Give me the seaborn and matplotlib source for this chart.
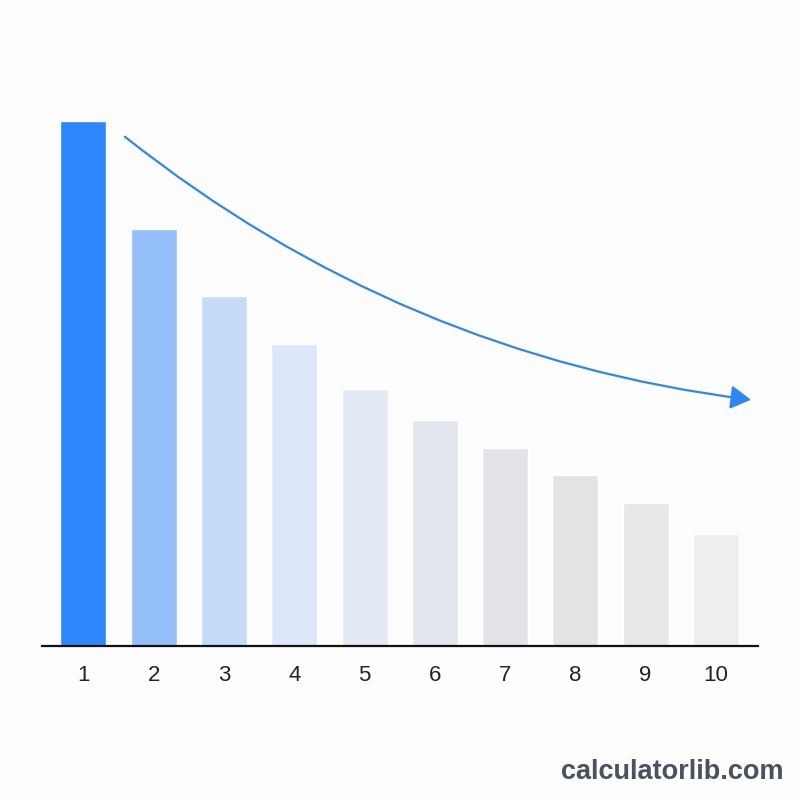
import matplotlib
matplotlib.use("Agg")
import matplotlib.pyplot as plt
import seaborn as sns
import pandas as pd

categories = ["1", "2", "3", "4", "5", "6", "7", "8", "9", "10"]
values = [100, 79.4, 66.7, 57.5, 48.9, 43.0, 37.7, 32.6, 27.2, 21.3]
bar_colors = ["#2E86FF", "#94BFFA", "#C6DBFA", "#DCE8FA", "#E3EAF5",
              "#E2E6EE", "#E2E4E8", "#E3E3E5", "#E8E8E9", "#EEEEEE"]

sns.set_theme(style="white")
plt.rcParams["font.family"] = ["Liberation Sans", "DejaVu Sans"]

df = pd.DataFrame({"rank": categories, "value": values})

fig = plt.figure(figsize=(8, 8), dpi=100, facecolor="#FDFDFD")
ax = fig.add_axes([42 / 800, (800 - 646) / 800, (758 - 42) / 800, (646 - 100) / 800])
ax.set_facecolor("#FDFDFD")

sns.barplot(data=df, x="rank", y="value", hue="rank", palette=bar_colors,
            dodge=False, legend=False, width=0.655, saturation=1, ax=ax)

ax.set_xlim(-0.59, 9.6)
ax.set_ylim(0, 104)
ax.set_xlabel("")
ax.set_ylabel("")
ax.set_yticks([])
for s in ["top", "right", "left"]:
    ax.spines[s].set_visible(False)
ax.spines["bottom"].set_color("#111111")
ax.spines["bottom"].set_linewidth(1.6)
ax.tick_params(axis="x", length=0, pad=14, labelsize=16, labelcolor="#222222")

# decorative trend arrow
ax.annotate("", xy=(9.5, values[-1] + 25.6), xytext=(0.59, values[0] - 3.0),
            xycoords="data", textcoords="data",
            arrowprops=dict(arrowstyle="-|>,head_length=0.62,head_width=0.36",
                            color="#2F86F0", lw=1.6,
                            mutation_scale=20,
                            connectionstyle="arc3,rad=0.14",
                            shrinkA=0, shrinkB=0))

fig.text(783 / 800, 1 - 772 / 800, "calculatorlib.com", ha="right", va="center",
         fontsize=19.5, fontweight="bold", color="#4A5260")

fig.savefig("out.png", dpi=100, facecolor=fig.get_facecolor())
